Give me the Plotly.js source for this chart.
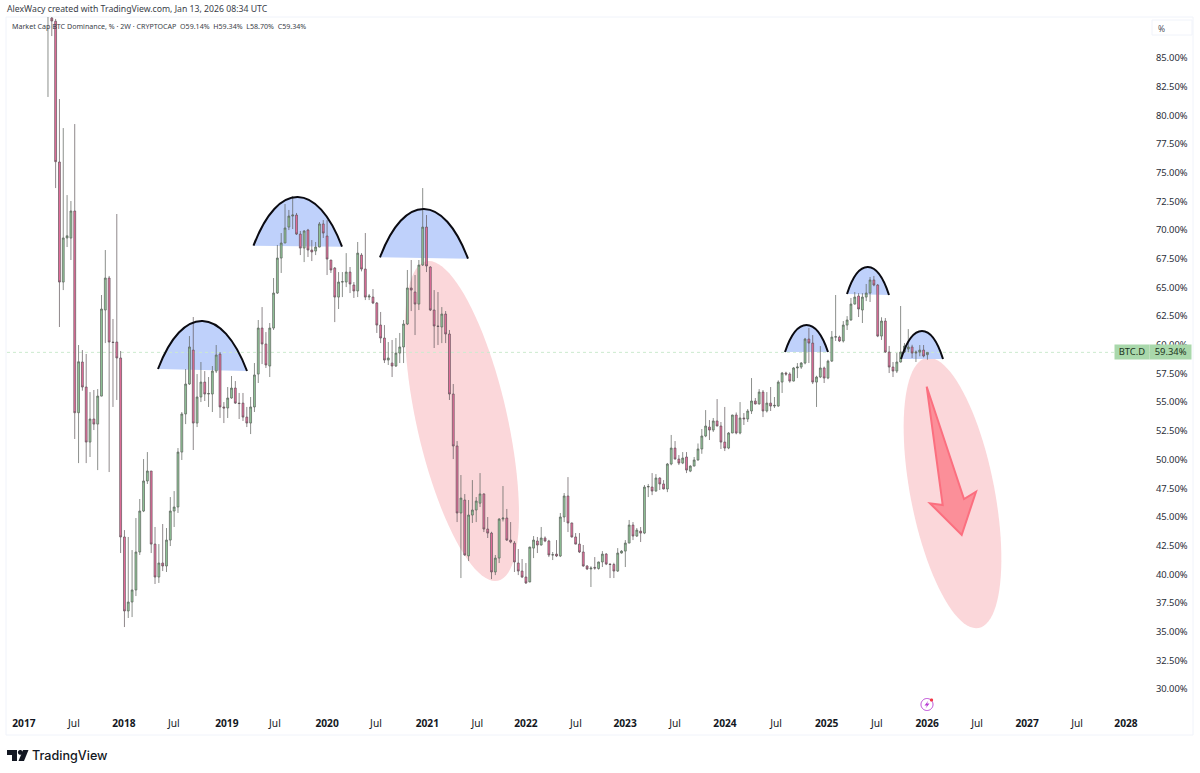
<!DOCTYPE html>
<html><head><meta charset="utf-8">
<script src="https://cdn.plot.ly/plotly-3.0.1.min.js"></script>
<style>html,body{margin:0;padding:0;background:#fff}#c{width:1200px;height:773px}</style>
</head><body><div id="c"></div>
<script>
const firstBar = '2017-03-16';
const opens = [
90,88.48,88.2,75.93,65.47,69.31,69.3,71.66,54.08,58.5,
56.32,51.52,53.53,53.09,55.53,63.03,65.82,60.24,60.24,58.85,
43.25,36.8,37.58,38.63,41.94,45.51,48.13,49.0,42.63,39.76,
40.98,40.72,42.98,45.51,45.86,50.65,53.97,56.58,59.54,53.18,
55.45,56.75,55.71,55.71,57.71,59.19,54.58,54.49,55.36,56.23,
54.92,54.92,53.7,53.18,54.58,57.45,61.46,60.07,58.15,61.46,
64.51,67.56,68.87,70.26,71.22,71.31,69.65,68.43,70.0,68.26,
68.17,68.52,70.53,69.48,67.39,66.69,64.16,65.47,65.47,66.34,
65.21,64.69,67.82,66.6,64.16,64.16,63.64,61.72,60.59,58.67,
58.41,58.15,59.28,59.81,61.81,64.95,64.6,63.55,66.95,70.26,
66.78,63.03,61.64,61.55,62.68,60.94,55.71,51.18,45.34,46.47,
41.6,45.16,45.6,46.2,47.0,43.94,43.59,40.2,41.41,44.81,
44.9,42.98,42.72,40.98,40.28,39.76,39.33,42.28,42.9,42.55,
43.16,42.9,41.68,41.76,41.59,44.99,46.82,44.47,43.25,42.63,
41.94,40.72,40.46,40.6,40.5,41.07,41.76,40.89,40.85,40.28,
41.85,42.02,42.72,44.29,43.33,43.76,43.59,47.6,47.6,47.25,
48.39,47.87,47.43,49.61,51.0,50.04,49.69,50.22,48.99,49.43,
49.96,50.92,52.05,52.83,52.57,53.36,52.92,51.52,51.0,52.31,
53.88,52.31,53.62,53.53,54.23,55.1,54.84,55.88,54.23,54.92,
54.66,54.66,56.75,57.54,57.45,56.84,57.98,58.06,58.41,60.5,
60.15,56.75,57.19,57.98,57.1,58.58,60.67,60.67,60.33,61.72,
62.16,63.55,64.25,63.03,64.16,64.51,65.65,65.21,60.76,62.07,
59.37,58.06,57.71,58.5,59.37,59.63,59.81,59.28,59.36,59.54,
59.14];
const highs = [
93,89.5,88.4,81.42,78.89,73.05,72.53,79.24,59.98,59.54,
59.2,55.88,56.06,56.14,64.34,68.26,66.0,62.25,71.4,59.46,
43.85,43.25,42.11,44.9,46.56,50.04,50.65,49.0,44.12,42.63,
44.38,44.03,46.73,47.25,51.0,54.14,57.89,60.76,62.42,57.45,
58.5,57.71,57.19,58.15,59.98,59.37,55.01,56.32,57.28,56.84,
55.8,55.8,54.58,55.45,58.41,62.16,63.29,61.11,61.9,65.82,
68.7,69.74,72.27,71.75,72.97,71.49,69.92,70.0,70.1,69.13,
68.96,70.7,70.87,70.87,67.39,66.78,66.34,66.34,67.99,66.78,
65.47,68.96,67.99,69.74,64.43,64.86,63.73,62.86,61.72,60.24,
60.42,60.59,61.03,62.16,66.52,67.39,66.08,67.39,73.66,71.31,
66.85,64.77,64.6,63.29,62.94,61.29,56.58,51.61,48.65,46.99,
46.47,48.21,46.73,48.82,47.05,44.99,43.7,41.68,44.9,47.69,
45.69,44.55,42.9,42.2,41.33,40.98,42.4,43.33,43.25,44.12,
43.3,43.0,41.94,42.98,45.34,47.08,48.47,44.5,43.59,43.59,
42.55,40.8,40.7,41.5,41.1,42.02,41.85,40.95,41.0,42.28,
42.1,42.98,44.73,44.55,44.03,44.12,47.78,47.87,48.82,48.73,
48.45,48.21,49.7,52.14,51.61,50.39,50.65,50.65,49.5,50.22,
51.4,52.66,54.31,53.44,53.62,55.27,53.27,54.58,52.4,53.9,
54.1,55.01,54.05,54.4,57.1,55.36,56.14,56.06,55.88,56.32,
55.45,56.9,57.63,57.65,57.6,58.06,58.41,58.5,60.6,61.46,
60.85,57.3,59.89,58.1,58.7,61.2,64.34,60.8,62.07,62.5,
64.08,64.6,64.5,64.5,65.3,65.91,66.0,65.3,62.4,62.33,
59.9,58.5,59.28,63.38,60.15,61.37,60.0,59.5,59.98,59.98,
59.34];
const lows = [
81.6,86.91,73.66,61.55,64.77,68.52,67.39,51.79,49.69,56.0,
49.69,50.22,52.57,49.08,55.5,60.15,48.91,54.58,55.19,41.85,
35.4,36.19,36.27,38.1,41.68,45.42,47.87,41.85,39.15,39.24,
40.28,40.2,42.46,44.12,45.34,49.96,53.09,56.5,50.83,52.83,
55.01,55.1,54.58,54.14,57.54,53.62,53.18,53.62,55.3,54.84,
53.53,53.36,52.83,52.22,54.14,56.67,58.32,57.98,57.19,61.29,
64.43,66.26,68.87,70.0,70.09,69.57,67.82,67.21,67.65,67.3,
67.82,68.5,69.31,66.08,66.26,61.98,63.12,64.16,65.03,64.51,
64.08,64.16,66.4,63.9,63.9,63.55,61.03,60.15,58.41,58.24,
57.19,58.07,58.41,58.41,61.72,62.94,60.85,63.03,66.87,66.34,
62.94,59.72,59.98,60.15,60.15,55.19,50.04,44.55,39.67,41.6,
41.15,44.47,44.55,45.86,43.68,43.16,39.58,39.93,40.98,44.6,
42.9,42.7,40.2,39.93,39.67,39.15,39.3,41.41,41.85,42.5,
42.8,41.5,41.24,41.5,41.5,44.55,43.68,43.2,42.6,41.85,
40.65,40.37,38.89,40.4,40.4,40.63,40.8,39.67,39.67,40.2,
41.8,40.63,42.7,42.98,43.25,42.81,43.5,46.73,46.9,47.2,
47.34,47.4,47.16,49.5,50.0,49.52,49.6,48.82,48.9,49.4,
49.9,50.5,51.95,51.7,52.4,52.9,50.92,50.74,50.9,52.3,
52.2,52.2,53.01,53.27,53.97,54.8,54.8,53.7,54.1,54.23,
54.49,54.6,55.8,57.3,56.7,56.8,57.1,57.9,58.3,58.41,
56.58,54.58,57.1,56.67,57.0,58.5,60.33,60.24,60.2,61.29,
62.1,63.5,62.42,61.9,63.81,63.73,65.1,60.67,60.42,59.3,
57.54,57.19,57.54,58.45,59.28,59.35,58.85,58.5,59.0,58.9,
58.7];
const closes = [
91,88.22,75.96,65.47,69.31,69.5,71.66,54.08,58.52,56.32,
51.52,53.53,53.09,55.53,63.12,65.82,60.24,60.2,58.85,43.25,
36.8,37.58,38.63,41.94,45.51,48.13,49.0,42.63,39.76,40.98,
40.72,42.98,45.51,45.86,50.65,53.97,56.58,59.81,53.18,55.45,
56.75,55.71,55.75,57.71,59.11,54.58,54.49,55.36,56.23,54.92,
54.88,53.7,53.18,54.58,57.37,61.46,60.07,58.24,61.46,64.51,
67.56,68.87,70.18,71.22,71.31,69.65,68.43,69.92,68.26,68.09,
68.52,70.53,69.74,67.47,66.52,64.16,65.47,65.5,66.34,65.3,
64.69,67.99,66.6,64.16,64.25,63.64,61.72,60.59,58.67,58.85,
58.15,59.28,59.81,61.81,64.95,64.77,63.55,66.95,70.26,66.87,
63.03,61.64,61.6,62.68,60.94,55.71,51.18,45.34,46.64,41.68,
45.16,45.6,46.38,47.0,43.94,43.59,40.2,41.41,44.81,44.9,
42.98,42.81,41.07,40.28,39.76,39.24,42.37,42.98,42.55,43.16,
42.9,41.68,41.7,41.59,44.99,46.82,44.47,43.25,42.63,41.94,
40.72,40.46,40.54,40.54,41.07,41.76,40.89,40.85,40.28,41.85,
42.02,42.72,44.29,43.33,43.85,43.59,47.6,47.65,47.25,48.39,
47.87,47.43,49.61,51.0,50.04,49.69,50.13,49.08,49.43,49.96,
50.92,52.05,52.92,52.57,53.36,52.92,51.52,51.0,52.31,53.88,
52.31,53.62,53.55,54.23,55.1,54.84,55.88,54.23,54.92,54.66,
54.72,56.75,57.54,57.45,56.84,57.98,58.06,58.41,60.5,60.15,
56.75,57.19,57.98,57.1,58.58,60.67,60.7,60.33,61.72,62.16,
63.55,64.16,63.12,64.16,64.51,65.65,65.21,60.76,62.07,59.37,
58.06,57.71,58.5,59.37,59.89,59.81,59.28,59.36,59.54,59.02,
59.34];
const priceTicks = [30,32.5,35,37.5,40,42.5,45,47.5,50,52.5,55,57.5,60,62.5,65,67.5,70,72.5,75,77.5,80,82.5,85];
const timeTickDates = ['2016-12-18','2017-06-19','2017-12-19','2018-06-20','2018-12-31','2019-06-25','2020-01-02','2020-06-29','2021-01-03','2021-07-05','2021-12-30','2022-07-01','2022-12-28','2023-06-29','2023-12-29','2024-07-03','2025-01-04','2025-07-07','2026-01-07','2026-07-09','2027-01-08','2027-07-10','2028-01-05'];
const timeTickLabels = ['2017','Jul','2018','Jul','2019','Jul','2020','Jul','2021','Jul','2022','Jul','2023','Jul','2024','Jul','2025','Jul','2026','Jul','2027','Jul','2028'];
const lastClose = 59.34;

const DAY = 86400000;
const dates = closes.map((_, i) => new Date(Date.parse(firstBar) + i * 14 * DAY).toISOString().slice(0, 10));

const FONT = '"Noto Sans", sans-serif';
const W = 1200, H = 773, mL = 7, mR = 50, mT = 17, mB = 61;
const PX = x => (x - mL) / (W - mL - mR);
const PY = y => (H - mB - y) / (H - mT - mB);
const pt = (x, y) => PX(x).toFixed(5) + ',' + PY(y).toFixed(5);
const paperShape = (path, o) => Object.assign({type: 'path', xref: 'paper', yref: 'paper', path}, o);

function ellipsePath(cx, cy, a, b, deg) {
  const t = deg * Math.PI / 180; let s = '';
  for (let i = 0; i < 96; i++) {
    const u = i / 96 * 2 * Math.PI, ex = b * Math.cos(u), ey = a * Math.sin(u);
    s += (i ? 'L' : 'M') + pt(cx + ex * Math.cos(t) - ey * Math.sin(t), cy + ex * Math.sin(t) + ey * Math.cos(t));
  }
  return s + 'Z';
}
function dome(x0, y0, x1, y1, top) {
  const w = x1 - x0, c = (top - (y0 + y1) / 2) * 4 / 3;
  return 'M' + pt(x0, y0) + 'C' + pt(x0 + 0.28 * w, y0 + c) + ' ' + pt(x1 - 0.28 * w, y1 + c) + ' ' + pt(x1, y1);
}
const domes = [[158,369,247,371,321],[253.5,245.7,342,246.7,197],[380,257.3,468,258.7,209],[785,352,828,352,325],[847,294,889,295,267],[901,359,943,359,331]];

const shapes = [];
shapes.push({type:'rect',xref:'paper',yref:'paper',x0:PX(6),x1:PX(1193),y0:PY(735),y1:PY(17),line:{color:'#f0f3fa',width:1},layer:'below'});
shapes.push(paperShape(ellipsePath(462,421,163.7,45.3,-12.7),{fillcolor:'#fbd7da',line:{width:0},layer:'below'}));
shapes.push(paperShape(ellipsePath(952.5,493,137.5,42,-11),{fillcolor:'#fbd7da',line:{width:0},layer:'below'}));
domes.forEach(d => shapes.push(paperShape(dome(...d) + 'Z', {fillcolor:'#bfd1fb',line:{width:0},layer:'below'})));
shapes.push({type:'line',xref:'paper',yref:'y',x0:0,x1:1,y0:lastClose,y1:lastClose,line:{color:'#cdeacf',width:1,dash:'dot'},layer:'below'});
domes.forEach(d => shapes.push(paperShape(dome(...d), {line:{color:'#0b0b12',width:2},layer:'above'})));
shapes.push(paperShape('M'+pt(926.7,386.7)+'L'+pt(964,499)+'L'+pt(976,491.7)+'L'+pt(961.7,535)+'L'+pt(930,503.3)+'L'+pt(942.7,505)+'Z',{fillcolor:'#fb8f99',line:{color:'#fb6f7f',width:2},layer:'above'}));
// TradingView mark
shapes.push(paperShape('M'+pt(7,750)+'L'+pt(17,750)+'L'+pt(17,761)+'L'+pt(12,761)+'L'+pt(12,755)+'L'+pt(7,755)+'Z',{fillcolor:'#131722',line:{width:0}}));
shapes.push(paperShape('M'+pt(23,750)+'L'+pt(28.5,750)+'L'+pt(24,761)+'L'+pt(18.5,761)+'Z',{fillcolor:'#131722',line:{width:0}}));
shapes.push(paperShape(ellipsePath(20.3,752.4,2.4,2.4,0),{fillcolor:'#131722',line:{width:0}}));
// lightning badge
shapes.push(paperShape(ellipsePath(927,704.5,6,6,0),{fillcolor:'#ffffff',line:{color:'#b73ad3',width:1}}));
shapes.push(paperShape('M'+pt(928.5,700.5)+'L'+pt(924.5,705.5)+'L'+pt(927,705.5)+'L'+pt(925.5,708.5)+'L'+pt(929.5,703.5)+'L'+pt(927,703.5)+'Z',{fillcolor:'#b73ad3',line:{width:0}}));
shapes.push(paperShape(ellipsePath(931.5,700,1.6,1.6,0),{fillcolor:'#f23645',line:{width:0}}));
// "%" box
shapes.push({type:'rect',xref:'paper',yref:'paper',x0:PX(1152),x1:PX(1192),y0:PY(35),y1:PY(20),line:{color:'#f0f3fa',width:1}});

const note = (x, y, text, size, o) => Object.assign({
  xref:'paper', yref:'paper', x:PX(x), y:PY(y), text, showarrow:false,
  xanchor:'left', yanchor:'middle', borderpad:0, font:{family:FONT,size,color:'#131722'}
}, o || {});
const annotations = [
  note(6, 9, 'AlexWacy created with TradingView.com, Jan 13, 2026 08:34 UTC', 8.7, {font:{family:FONT,size:8.7,color:'#3a3e48'}}),
  note(11, 26, 'Market Cap BTC Dominance, % · 2W · CRYPTOCAP&nbsp;&nbsp;O59.14%&nbsp;&nbsp;H59.34%&nbsp;&nbsp;L58.70%&nbsp;&nbsp;C59.34%', 7.1, {font:{family:FONT,size:7.1,color:'#3a3e48'}}),
  note(1157, 28, '%', 8.5, {font:{family:FONT,size:8.5,color:'#50535e'}}),
  note(31, 755, 'TradingView', 12.6, {font:{family:'Inter, sans-serif',size:12.6,weight:500,color:'#131722'}}),
  note(1114.3, 352.5, 'BTC.D', 9.4, {bgcolor:'#a9d8ab',width:34,height:13.6,align:'center',font:{family:FONT,size:9.4,color:'#1c3320'}}),
  note(1149.3, 352.5, '59.34%', 9.4, {bgcolor:'#a9d8ab',width:41.4,height:13.6,align:'center',font:{family:FONT,size:9.4,color:'#1c3320'}})
];

const trace = {
  type:'candlestick', x:dates, open:opens, high:highs, low:lows, close:closes,
  width: 10 * DAY, whiskerwidth: 0,
  increasing:{line:{color:'#5a605a',width:0.7},fillcolor:'#93c99b'},
  decreasing:{line:{color:'#5e5559',width:0.7},fillcolor:'#ec6f9f'},
  hoverinfo:'skip', showlegend:false
};
const layout = {
  width:W, height:H, paper_bgcolor:'#fff', plot_bgcolor:'#fff', showlegend:false,
  margin:{l:mL,r:mR,t:mT,b:mB,pad:0},
  font:{family:FONT,size:10,color:'#131722'},
  xaxis:{type:'date',range:['2016-10-17','2028-04-02'],rangeslider:{visible:false},showgrid:false,zeroline:false,showline:false,
    tickmode:'array',tickvals:timeTickDates,
    ticktext:timeTickLabels.map(t => t==='Jul' ? t : '<b>'+t+'</b>'),
    ticks:'outside',ticklen:2,tickcolor:'rgba(0,0,0,0)',tickfont:{family:FONT,size:10.2,color:'#131722'}},
  yaxis:{side:'right',range:[27.995,88.57],showgrid:false,zeroline:false,showline:false,
    tickmode:'array',tickvals:priceTicks,ticktext:priceTicks.map(v => v.toFixed(2)+'%'),
    ticks:'outside',ticklen:3,tickcolor:'rgba(0,0,0,0)',tickfont:{family:FONT,size:9.4,color:'#2a2e39'}},
  shapes, annotations
};
Plotly.newPlot('c',[trace],layout,{displayModeBar:false,staticPlot:true});
</script></body></html>
